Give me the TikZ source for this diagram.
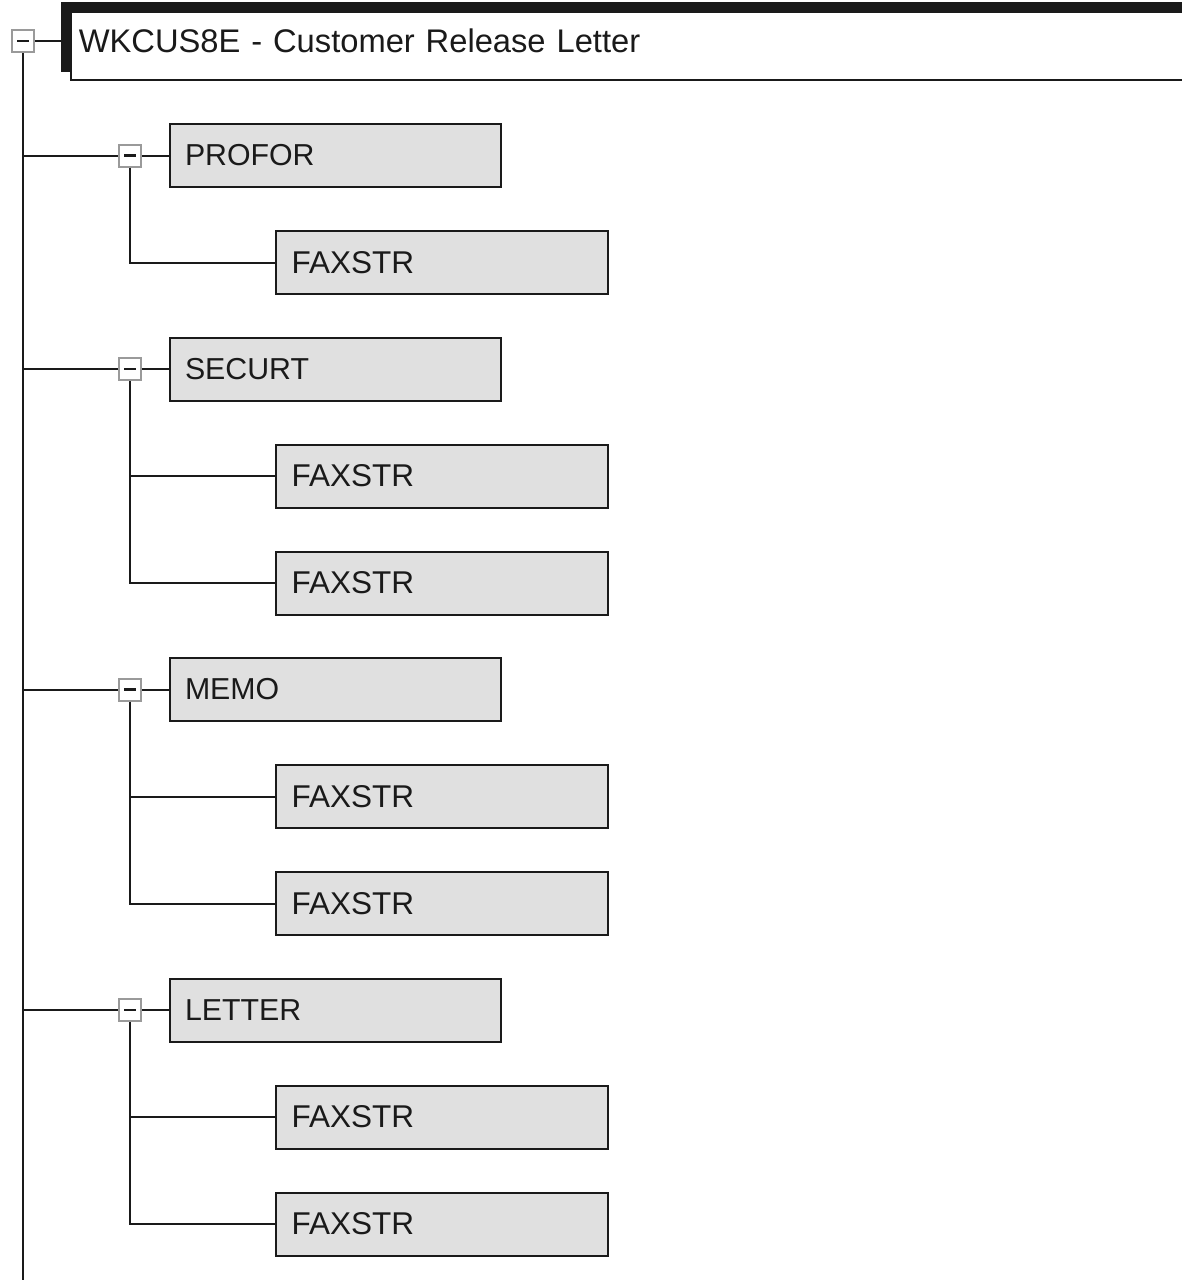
\documentclass[tikz,border=0pt]{standalone}
\usepackage{fontspec}
\setmainfont{Liberation Sans}
\usetikzlibrary{positioning}
\definecolor{boxgray}{HTML}{E0E0E0}
\definecolor{togglegray}{HTML}{9A9A9A}
\definecolor{inkblack}{HTML}{1A1A1A}

\begin{document}
\begin{tikzpicture}[x=1pt, y=1pt, node distance=27pt, color=inkblack, line width=2pt,
  toggle/.style={draw=togglegray, fill=white, line width=2pt, minimum size=22pt, inner sep=0pt,
                 path picture={\draw[inkblack, line width=2.2pt]
                   ([xshift=-6pt]path picture bounding box.center) --
                   ([xshift=6pt]path picture bounding box.center);}},
  rootbox/.style={draw, fill=white, line width=1.5pt, minimum width=1140pt, minimum height=68pt,
                  text width=1124pt, inner xsep=8pt, align=left, text depth=10pt,
                  font=\fontsize{32.7pt}{38pt}\selectfont},
  onebox/.style={draw, fill=boxgray, line width=2pt, minimum width=331pt, minimum height=63pt,
                 text width=301pt, inner xsep=15pt, align=left,
                 font=\fontsize{30.3pt}{36pt}\selectfont},
  twobox/.style={onebox, minimum width=332pt, text width=300pt, inner xsep=16pt,
                 font=\fontsize{31.5pt}{37pt}\selectfont}]
  \useasboundingbox (0,0) rectangle (1182,-1280);

  % root
  \node[toggle] (t0) at (23,-41) {};
  \node[rootbox, right=35pt of t0, yshift=-5pt] (root) {WKCUS8E - Customer Release Letter};
  \draw[line width=9pt, line join=miter] ([shift={(-4.5pt,9pt)}]root.south west)
    -- ([shift={(-4.5pt,4.5pt)}]root.north west) -- ([shift={(0pt,4.5pt)}]root.north east);
  \coordinate (trunkend) at (23,-1280);
  \draw (t0.south) -- (trunkend);
  \draw (t0.east) -- (t0.east -| root.west);

  % PROFOR
  \node[toggle] (tprofor) at (130,-155.5) {};
  \node[onebox, right=of tprofor] (profor) {PROFOR};
  \node[twobox, below=42pt of profor, xshift=106pt] (faxA) {FAXSTR};
  \draw (t0 |- tprofor) -- (tprofor.west);
  \draw (tprofor.east) -- (profor.west);
  \draw (tprofor.south) |- (faxA.west);

  % SECURT
  \node[toggle] (tsecurt) at (130,-369) {};
  \node[onebox, right=of tsecurt] (securt) {SECURT};
  \node[twobox, below=42pt of securt, xshift=106pt] (faxB) {FAXSTR};
  \node[twobox, below=42pt of faxB] (faxC) {FAXSTR};
  \draw (t0 |- tsecurt) -- (tsecurt.west);
  \draw (tsecurt.east) -- (securt.west);
  \draw (tsecurt |- faxB) -- (faxB.west);
  \draw (tsecurt.south) |- (faxC.west);

  % MEMO
  \node[toggle] (tmemo) at (130,-689.5) {};
  \node[onebox, right=of tmemo] (memo) {MEMO};
  \node[twobox, below=42pt of memo, xshift=106pt] (faxD) {FAXSTR};
  \node[twobox, below=42pt of faxD] (faxE) {FAXSTR};
  \draw (t0 |- tmemo) -- (tmemo.west);
  \draw (tmemo.east) -- (memo.west);
  \draw (tmemo |- faxD) -- (faxD.west);
  \draw (tmemo.south) |- (faxE.west);

  % LETTER
  \node[toggle] (tletter) at (130,-1010) {};
  \node[onebox, right=of tletter] (letter) {LETTER};
  \node[twobox, below=42pt of letter, xshift=106pt] (faxF) {FAXSTR};
  \node[twobox, below=42pt of faxF] (faxG) {FAXSTR};
  \draw (t0 |- tletter) -- (tletter.west);
  \draw (tletter.east) -- (letter.west);
  \draw (tletter |- faxF) -- (faxF.west);
  \draw (tletter.south) |- (faxG.west);
\end{tikzpicture}
\end{document}
